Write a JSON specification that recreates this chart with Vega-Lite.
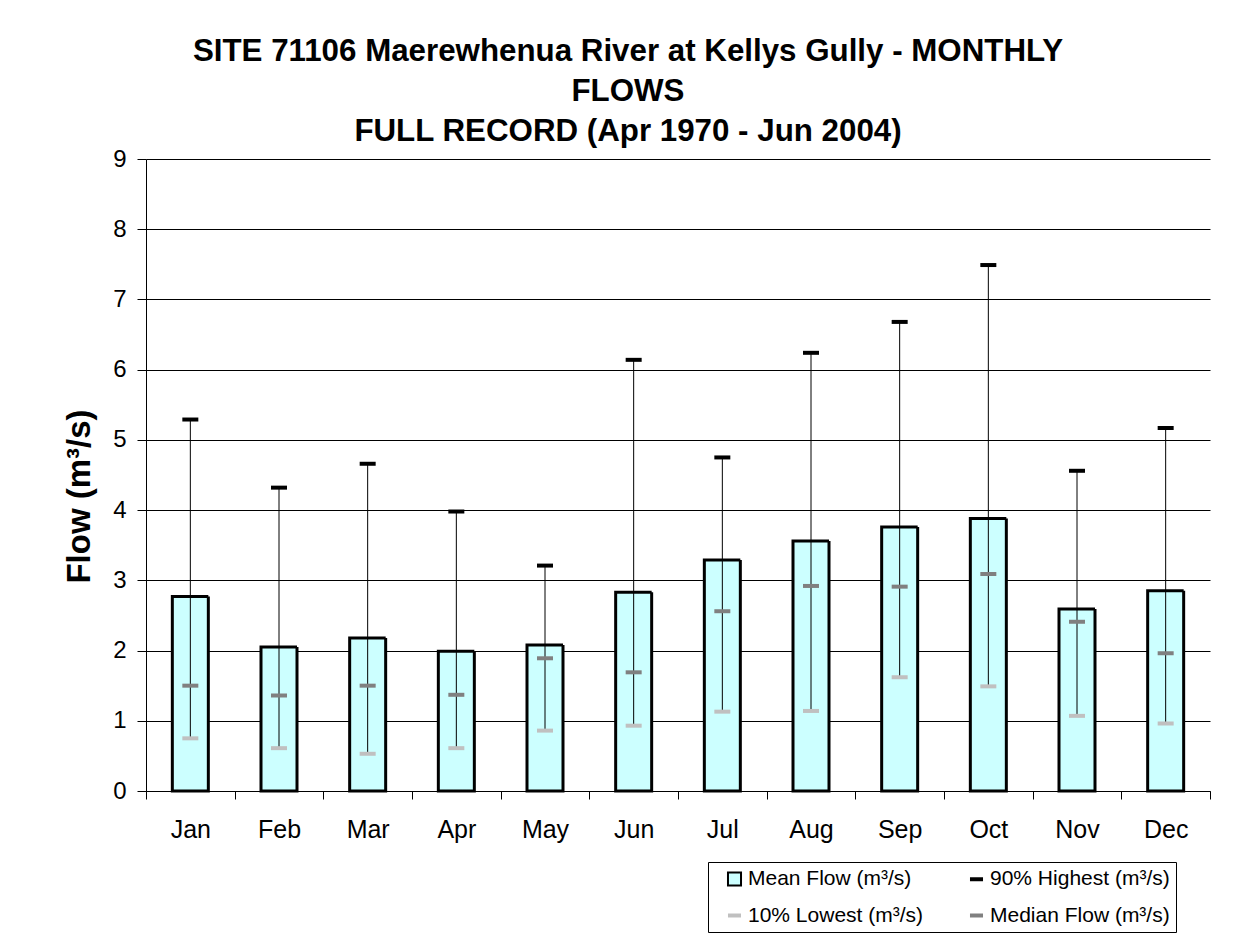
{
  "$schema": "https://vega.github.io/schema/vega-lite/v6.json",
  "autosize": "none",
  "width": 1064,
  "height": 632,
  "padding": {"left": 146, "top": 159, "right": 34, "bottom": 150},
  "background": "white",
  "config": {
    "font": "Liberation Sans",
    "view": {"stroke": null},
    "axis": {"domainColor": "black", "tickColor": "black", "labelColor": "black", "titleColor": "black", "gridColor": "black", "gridOpacity": 1, "domainWidth": 1, "tickWidth": 1}
  },
  "title": {
    "text": ["SITE 71106 Maerewhenua River at Kellys Gully - MONTHLY", "FLOWS", "FULL RECORD (Apr 1970 - Jun 2004)"],
    "fontSize": 31.3,
    "fontWeight": "bold",
    "lineHeight": 40,
    "color": "black",
    "anchor": "middle",
    "dx": -50,
    "offset": 0
  },
  "data": {
    "values": [
      {"month": "Jan", "mean": 2.77, "high": 5.29, "low": 0.75, "median": 1.50},
      {"month": "Feb", "mean": 2.05, "high": 4.32, "low": 0.61, "median": 1.36},
      {"month": "Mar", "mean": 2.18, "high": 4.66, "low": 0.53, "median": 1.50},
      {"month": "Apr", "mean": 1.99, "high": 3.98, "low": 0.61, "median": 1.37},
      {"month": "May", "mean": 2.08, "high": 3.21, "low": 0.86, "median": 1.89},
      {"month": "Jun", "mean": 2.83, "high": 6.14, "low": 0.93, "median": 1.69},
      {"month": "Jul", "mean": 3.29, "high": 4.75, "low": 1.13, "median": 2.56},
      {"month": "Aug", "mean": 3.56, "high": 6.24, "low": 1.14, "median": 2.92},
      {"month": "Sep", "mean": 3.76, "high": 6.68, "low": 1.62, "median": 2.91},
      {"month": "Oct", "mean": 3.88, "high": 7.49, "low": 1.49, "median": 3.09},
      {"month": "Nov", "mean": 2.59, "high": 4.56, "low": 1.07, "median": 2.41},
      {"month": "Dec", "mean": 2.85, "high": 5.17, "low": 0.96, "median": 1.96}
    ]
  },
  "encoding": {
    "x": {
      "field": "month",
      "type": "nominal",
      "sort": null,
      "scale": {"paddingInner": 0, "paddingOuter": 0},
      "axis": {"title": null, "labelAngle": 0, "labelFontSize": 25, "tickBand": "extent", "tickSize": 8, "labelPadding": 38, "labelBaseline": "alphabetic", "grid": false}
    }
  },
  "layer": [
    {
      "mark": {
        "type": "bar",
        "size": 36,
        "fill": {"expr": "datum.value && datum.value !== 'Mean Flow (m³/s)' ? 'transparent' : '#ccffff'"},
        "stroke": {"expr": "datum.value === '90% Highest (m³/s)' ? '#000000' : (datum.value === '10% Lowest (m³/s)' ? '#c0c0c0' : (datum.value === 'Median Flow (m³/s)' ? '#808080' : '#000000'))"},
        "strokeWidth": {"expr": "datum.value ? (datum.value === 'Mean Flow (m³/s)' ? 2 : 4) : 3"}
      },
      "encoding": {
        "y": {
          "field": "mean",
          "type": "quantitative",
          "scale": {"domain": [0, 9], "nice": false},
          "axis": {
            "title": "Flow (m³/s)",
            "titleFontSize": 33,
            "titleFontWeight": "bold",
            "titleX": -57,
            "titleY": 337,
            "titleAngle": -90,
            "titleAlign": "center",
            "titleBaseline": "alphabetic",
            "values": [0, 1, 2, 3, 4, 5, 6, 7, 8, 9],
            "format": "d",
            "labelFontSize": 24,
            "tickSize": 9,
            "labelPadding": 11,
            "grid": true
          }
        },
        "strokeDash": {
          "datum": "Mean Flow (m³/s)",
          "type": "nominal",
          "scale": {
            "domain": ["Mean Flow (m³/s)", "90% Highest (m³/s)", "10% Lowest (m³/s)", "Median Flow (m³/s)"],
            "range": [[1, 0], [1, 0], [1, 0], [1, 0]]
          },
          "legend": {
            "title": null,
            "orient": "none",
            "legendX": 562,
            "legendY": 703,
            "direction": "horizontal",
            "columns": 2,
            "strokeColor": "black",
            "fillColor": "white",
            "padding": 6,
            "symbolOffset": 10,
            "symbolType": {"expr": "datum.value === 'Mean Flow (m³/s)' ? 'square' : 'stroke'"},
            "symbolStrokeWidth": {"expr": "datum.value === 'Mean Flow (m³/s)' ? 2 : 4"},
            "labelFontSize": 21,
            "labelColor": "black",
            "labelLimit": 400,
            "labelOffset": 3,
            "columnPadding": 32,
            "rowPadding": 14,
            "symbolSize": 170
          }
        }
      }
    },
    {
      "mark": {"type": "rule", "color": "black", "strokeWidth": 1},
      "encoding": {
        "y": {"field": "low", "type": "quantitative"},
        "y2": {"field": "high"}
      }
    },
    {
      "mark": {"type": "tick", "orient": "horizontal", "size": 16, "thickness": 4, "opacity": 1, "color": "#808080"},
      "encoding": {
        "y": {"field": "median", "type": "quantitative"}
      }
    },
    {
      "mark": {"type": "tick", "orient": "horizontal", "size": 16, "thickness": 4, "opacity": 1, "color": "#c0c0c0"},
      "encoding": {
        "y": {"field": "low", "type": "quantitative"}
      }
    },
    {
      "mark": {"type": "tick", "orient": "horizontal", "size": 16, "thickness": 4, "opacity": 1, "color": "#000000"},
      "encoding": {
        "y": {"field": "high", "type": "quantitative"}
      }
    }
  ]
}
